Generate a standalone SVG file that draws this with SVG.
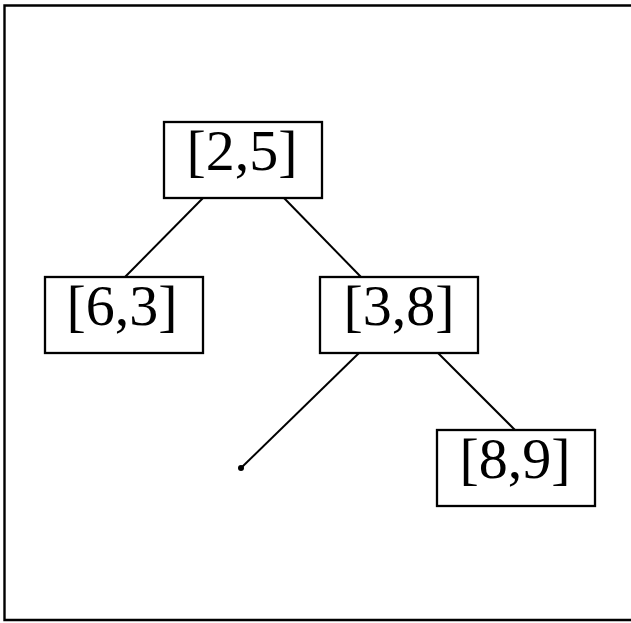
<svg xmlns="http://www.w3.org/2000/svg" width="631" height="623" viewBox="0 0 631 623">
  <style>
    .frame { fill: none; stroke: #000; stroke-width: 2.4; }
    .box { fill: #fff; stroke: #000; stroke-width: 2.3; }
    .label { font-family: "Liberation Serif", "Times New Roman", serif; font-size: 58px; text-anchor: middle; fill: #000; }
    .edge { stroke: #000; stroke-width: 2; fill: none; }
  </style>
  <rect width="631" height="623" fill="#fff"/>
  <!-- outer frame, open on the right -->
  <path class="frame" d="M640,5.5 H4.5 V620 H640"/>

  <g id="connectors">
    <line class="edge" x1="203" y1="198" x2="125" y2="277"/>
    <line class="edge" x1="284" y1="198" x2="361" y2="277"/>
    <line class="edge" x1="359" y1="353" x2="241" y2="468"/>
    <line class="edge" x1="438" y1="353" x2="515" y2="430"/>
    <circle cx="241" cy="468" r="3" fill="#000"/>
  </g>

  <g id="node-2-5">
    <rect class="box" x="164" y="122" width="158" height="76"/>
    <text class="label" x="242" y="170">[2,5]</text>
  </g>
  <g id="node-6-3">
    <rect class="box" x="45" y="277" width="158" height="76"/>
    <text class="label" x="122" y="325">[6,3]</text>
  </g>
  <g id="node-3-8">
    <rect class="box" x="320" y="277" width="158" height="76"/>
    <text class="label" x="399" y="325">[3,8]</text>
  </g>
  <g id="node-8-9">
    <rect class="box" x="437" y="430" width="158" height="76"/>
    <text class="label" x="515" y="478">[8,9]</text>
  </g>
</svg>
